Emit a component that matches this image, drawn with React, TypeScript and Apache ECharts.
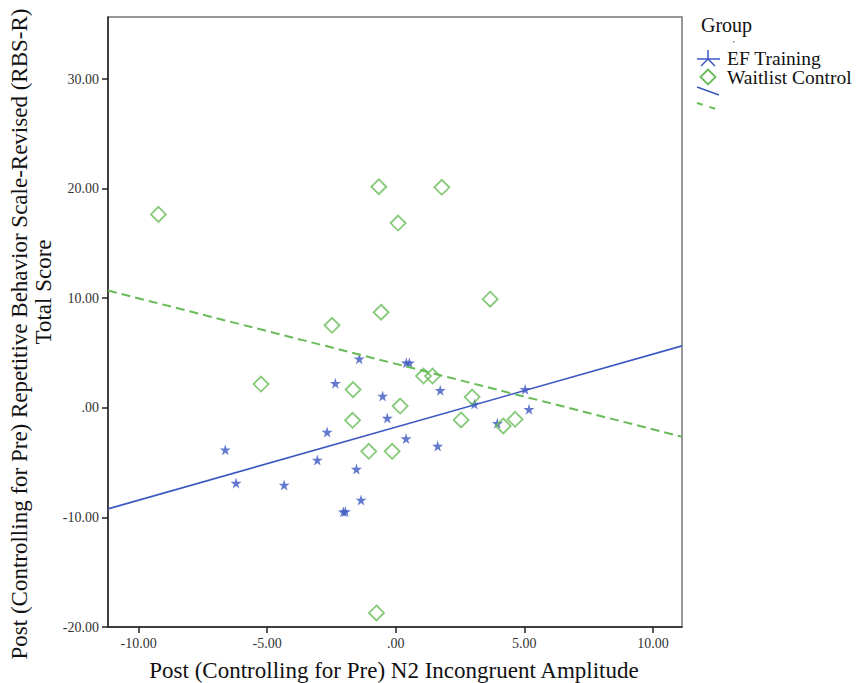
import React, { useEffect, useRef } from "react";
import * as echarts from "echarts";

// ---- data ----
const xTicks = [-10, -5, 0, 5, 10];
const yTicks = [-20, -10, 0, 10, 20, 30];
const xRange = [-11.19, 11.13];
const yRange = [-20, 35.66];

const efTraining: [number, number][] = [
  [-1.42, 4.48], [-2.35, 2.24], [0.41, 4.11], [0.53, 4.11], [-0.51, 1.08],
  [1.73, 1.6], [-0.33, -0.93], [-2.67, -2.21], [0.4, -2.8], [1.63, -3.49],
  [-3.05, -4.76], [-1.53, -5.59], [-6.63, -3.82], [-6.21, -6.86], [-4.34, -7.04],
  [-1.35, -8.41], [-2.04, -9.49], [-1.96, -9.47], [3.06, 0.34], [3.95, -1.42],
  [5.03, 1.69], [5.18, -0.14],
];

const waitlist: [number, number][] = [
  [-9.23, 17.65], [-0.66, 20.17], [1.79, 20.12], [0.09, 16.86], [-2.48, 7.53],
  [-0.57, 8.72], [3.67, 9.91], [-5.24, 2.17], [1.08, 2.9], [1.43, 2.9],
  [-1.66, 1.66], [2.97, 0.98], [0.17, 0.16], [-1.68, -1.14], [2.54, -1.11],
  [4.18, -1.66], [4.64, -1.05], [-1.05, -3.97], [-0.14, -3.97], [-0.75, -18.72],
];

// fit lines read at the plot's left and right edges
const fitEF: [number, number][] = [[-11.19, -9.22], [11.13, 5.65]];
const fitWL: [number, number][] = [[-11.19, 10.7], [11.13, -2.64]];

const xTitle = "Post (Controlling for Pre) N2 Incongruent Amplitude";
const yTitle1 = "Post (Controlling for Pre) Repetitive Behavior Scale-Revised (RBS-R)";
const yTitle2 = "Total Score";
const legendTitle = "Group";
const legendNames = ["EF Training", "Waitlist Control"];

const BLUE = "#3c58c0";
const GREEN = "#68bb58";
const FONT = "'Liberation Serif', 'Times New Roman', serif";
const STAR =
  "path://M50,0 L61,35 L98,35 L68,57 L79,91 L50,70 L21,91 L32,57 L2,35 L39,35 Z";

const fmt = (v: number) => (v === 0 ? ".00" : v.toFixed(2));

export default function App() {
  const ref = useRef<HTMLDivElement>(null);
  useEffect(() => {
    if (!ref.current) return;
    const chart = echarts.init(ref.current, undefined, { renderer: "svg" });
    const cx = 708;
    const option: any = {
      animation: false,
      backgroundColor: "#ffffff",
      grid: {
        left: 108,
        right: 176,
        top: 17,
        bottom: 56,
        show: true,
        borderColor: "#777",
        borderWidth: 1.5,
        containLabel: false,
        outerBoundsMode: "none",
      },
      xAxis: {
        type: "value",
        min: xRange[0],
        max: xRange[1],
        axisLine: { show: true, onZero: false, lineStyle: { color: "#222", width: 1.5 } },
        axisTick: { show: true, length: 6, customValues: xTicks, lineStyle: { color: "#222", width: 1.5 } },
        axisLabel: {
          customValues: xTicks,
          formatter: fmt,
          fontFamily: FONT,
          fontSize: 14,
          color: "#333",
          margin: 9,
        },
        splitLine: { show: false },
      },
      yAxis: {
        type: "value",
        min: yRange[0],
        max: yRange[1],
        axisLine: { show: true, onZero: false, lineStyle: { color: "#222", width: 1.5 } },
        axisTick: { show: true, length: 6, customValues: yTicks, lineStyle: { color: "#222", width: 1.5 } },
        axisLabel: {
          customValues: yTicks,
          formatter: fmt,
          fontFamily: FONT,
          fontSize: 14,
          color: "#333",
          margin: 9,
        },
        splitLine: { show: false },
      },
      series: [
        {
          name: legendNames[0],
          type: "scatter",
          data: efTraining,
          symbol: STAR,
          symbolSize: 11,
          itemStyle: { color: BLUE },
          z: 3,
        },
        {
          name: legendNames[1],
          type: "scatter",
          data: waitlist,
          symbol: "diamond",
          symbolSize: [15, 15],
          itemStyle: { color: "rgba(0,0,0,0)", borderColor: GREEN, borderWidth: 1.8 },
          z: 3,
        },
        {
          type: "line",
          data: fitEF,
          showSymbol: false,
          symbol: "none",
          lineStyle: { color: BLUE, width: 1.6 },
          z: 4,
        },
        {
          type: "line",
          data: fitWL,
          showSymbol: false,
          symbol: "none",
          lineStyle: { color: GREEN, width: 2, type: [9, 5] },
          z: 4,
        },
      ],
      graphic: [
        {
          type: "text",
          x: 394,
          y: 670,
          style: {
            text: xTitle,
            font: `23px ${FONT}`,
            fill: "#111",
            textAlign: "center",
            textVerticalAlign: "middle",
          },
        },
        {
          type: "text",
          x: 19,
          y: 334,
          rotation: Math.PI / 2,
          style: {
            text: yTitle1,
            font: `23px ${FONT}`,
            fill: "#111",
            textAlign: "center",
            textVerticalAlign: "middle",
          },
        },
        {
          type: "text",
          x: 43,
          y: 292,
          rotation: Math.PI / 2,
          style: {
            text: yTitle2,
            font: `23px ${FONT}`,
            fill: "#111",
            textAlign: "center",
            textVerticalAlign: "middle",
          },
        },
        {
          type: "text",
          x: 701,
          y: 25,
          style: {
            text: legendTitle,
            font: `20px ${FONT}`,
            fill: "#111",
            textAlign: "left",
            textVerticalAlign: "middle",
          },
        },
        { type: "rect", shape: { x: 733, y: 41, width: 1.5, height: 1.5 }, style: { fill: "#888" } },
        // star icon
        { type: "line", shape: { x1: 697, y1: 59, x2: 720, y2: 59 }, style: { stroke: BLUE, lineWidth: 1.5 } },
        { type: "line", shape: { x1: cx, y1: 59, x2: cx, y2: 50 }, style: { stroke: BLUE, lineWidth: 1.5 } },
        { type: "line", shape: { x1: cx, y1: 59, x2: 701, y2: 66 }, style: { stroke: BLUE, lineWidth: 1.5 } },
        { type: "line", shape: { x1: cx, y1: 59, x2: 715, y2: 66 }, style: { stroke: BLUE, lineWidth: 1.5 } },
        {
          type: "text",
          x: 727,
          y: 58,
          style: {
            text: legendNames[0],
            font: `19.5px ${FONT}`,
            lineHeight: 17,
            fill: "#111",
            textAlign: "left",
            textVerticalAlign: "middle",
          },
        },
        // diamond icon
        {
          type: "polygon",
          shape: { points: [[cx, 69.5], [cx + 7.5, 77], [cx, 84.5], [cx - 7.5, 77]] },
          style: { fill: "none", stroke: GREEN, lineWidth: 1.8 },
        },
        {
          type: "text",
          x: 727,
          y: 77,
          style: {
            text: legendNames[1],
            font: `19.5px ${FONT}`,
            lineHeight: 17,
            fill: "#111",
            textAlign: "left",
            textVerticalAlign: "middle",
          },
        },
        // fit line icons
        { type: "line", shape: { x1: 697, y1: 87, x2: 719, y2: 95 }, style: { stroke: BLUE, lineWidth: 1.6 } },
        {
          type: "line",
          shape: { x1: 697, y1: 103, x2: 716, y2: 109 },
          style: { stroke: GREEN, lineWidth: 2, lineDash: [6, 7] },
        },
      ],
    };
    chart.setOption(option);
    return () => chart.dispose();
  }, []);
  return (
    <div
      ref={ref}
      style={{ position: "fixed", left: 0, top: 0, width: 858, height: 683, background: "#fff" }}
    />
  );
}
